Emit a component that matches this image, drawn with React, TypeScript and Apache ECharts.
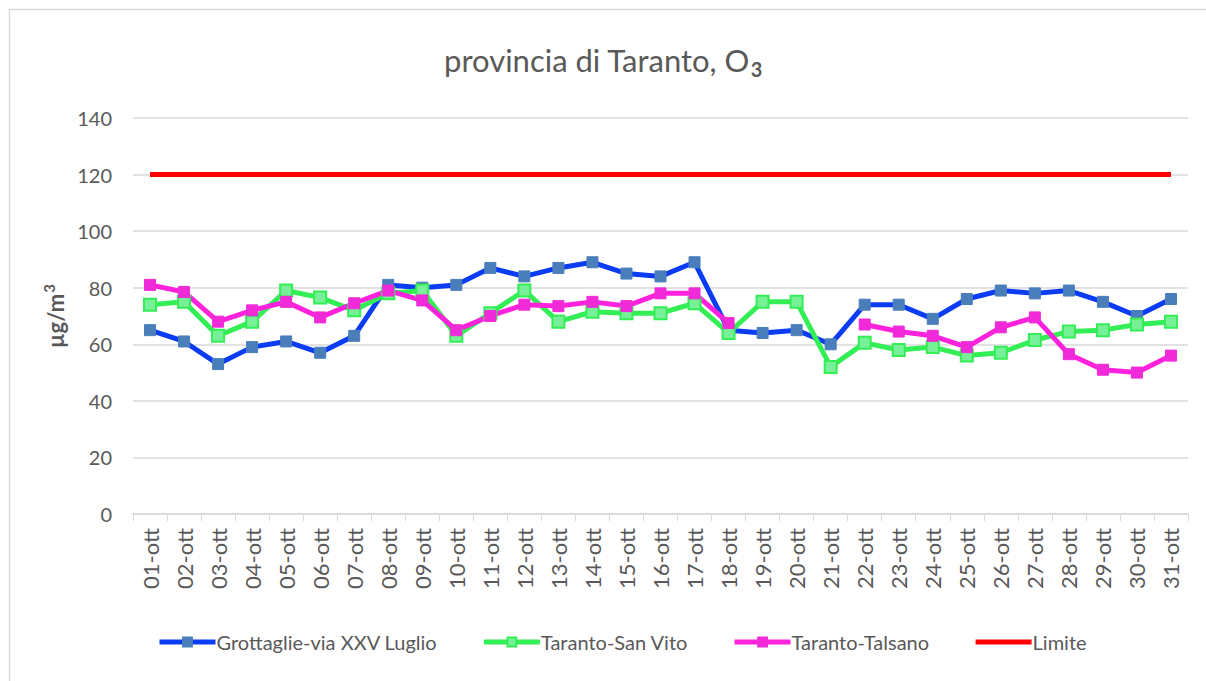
import React, { useEffect, useRef } from "react";
import * as echarts from "echarts";

const categories = [
  "01-ott","02-ott","03-ott","04-ott","05-ott","06-ott","07-ott","08-ott","09-ott","10-ott",
  "11-ott","12-ott","13-ott","14-ott","15-ott","16-ott","17-ott","18-ott","19-ott","20-ott",
  "21-ott","22-ott","23-ott","24-ott","25-ott","26-ott","27-ott","28-ott","29-ott","30-ott","31-ott",
];

const grottaglie = [65, 61, 53, 59, 61, 57, 63, 81, 80, 81, 87, 84, 87, 89, 85, 84, 89, 65, 64, 65, 60, 74, 74, 69, 76, 79, 78, 79, 75, 70, 76];
const sanVito = [74, 75, 63, 68, 79, 76.5, 72, 78, 79, 63, 71, 79, 68, 71.5, 71, 71, 74.5, 64, 75, 75, 52, 60.5, 58, 59, 56, 57, 61.5, 64.5, 65, 67, 68];
const talsano: (number | null)[] = [81, 78.5, 68, 72, 75, 69.5, 74.5, 79, 75.5, 65, 70, 74, 73.5, 75, 73.5, 78, 78, 67.5, null, null, null, 67, 64.5, 63, 59, 66, 69.5, 56.5, 51, 50, 56];
const limite = categories.map(() => 120);

const yTicks = { min: 0, max: 140, interval: 20 };

const FONT = "Lato, 'Open Sans', sans-serif";
const GREY = "#595959";

export default function App() {
  const ref = useRef<HTMLDivElement>(null);
  useEffect(() => {
    if (!ref.current) return;
    const chart = echarts.init(ref.current, null, { renderer: "svg" });
    chart.setOption({
      animation: false,
      backgroundColor: "#ffffff",
      textStyle: { fontFamily: FONT },
      graphic: [
        {
          type: "rect",
          shape: { x: 9.5, y: 9.5, width: 1220, height: 700 },
          style: { fill: "none", stroke: "#d9d9d9", lineWidth: 1.5 },
          silent: true,
        },
      ],
      title: {
        text: "{a|provincia di Taranto, O}{b|3}",
        left: "center",
        top: 36,
        textStyle: {
          rich: {
            a: { fontSize: 31, color: GREY, fontFamily: FONT, fontWeight: "normal" },
            b: { fontSize: 20, color: GREY, fontFamily: FONT, verticalAlign: "bottom", padding: [18, 0, 0, 1] },
          },
        },
      },
      grid: { left: 133, right: 18, top: 118, bottom: 167 },
      legend: {
        bottom: 24,
        left: 152,
        itemWidth: 56,
        itemHeight: 11,
        itemGap: 44,
        lineStyle: { width: 5 },
        textStyle: { fontSize: 20, color: GREY, fontFamily: FONT, padding: [0, 0, 0, -4] },
        data: [
          "Grottaglie-via XXV Luglio",
          "Taranto-San Vito",
          "Taranto-Talsano",
          { name: "Limite", itemStyle: { opacity: 0 } },
        ],
      },
      xAxis: {
        type: "category",
        data: categories,
        boundaryGap: true,
        axisLine: { lineStyle: { color: "#d9d9d9", width: 1.5 } },
        axisTick: { show: true, length: 7, lineStyle: { color: "#d9d9d9" } },
        axisLabel: { rotate: 90, fontSize: 22, color: GREY, margin: 14, interval: 0, fontFamily: FONT },
      },
      yAxis: {
        type: "value",
        min: yTicks.min,
        max: yTicks.max,
        interval: yTicks.interval,
        name: "{a|µg/m}{b|3}",
        nameLocation: "middle",
        nameGap: 62,
        nameRotate: 90,
        nameTextStyle: {
          rich: {
            a: { fontSize: 22, fontWeight: "bold", color: GREY, fontFamily: FONT },
            b: { fontSize: 15, fontWeight: "bold", color: GREY, fontFamily: FONT, verticalAlign: "top", padding: [0, 0, 12, 1] },
          },
        },
        axisLine: { show: false },
        axisTick: { show: false },
        axisLabel: { fontSize: 20, color: GREY, margin: 21, fontFamily: FONT },
        splitLine: { lineStyle: { color: "#d9d9d9", width: 1.5 } },
      },
      series: [
        {
          name: "Grottaglie-via XXV Luglio",
          type: "line",
          data: grottaglie,
          symbol: "rect",
          symbolSize: 11,
          lineStyle: { color: "#0a3cf5", width: 5 },
          itemStyle: { color: "#4a7ebb", borderColor: "#4a7ebb", borderWidth: 1 },
        },
        {
          name: "Taranto-San Vito",
          type: "line",
          data: sanVito,
          symbol: "rect",
          symbolSize: 12,
          lineStyle: { color: "#33ee55", width: 5 },
          itemStyle: { color: "#77f097", borderColor: "#33ee55", borderWidth: 2 },
        },
        {
          name: "Taranto-Talsano",
          type: "line",
          data: talsano.map((v) => (v === null ? "-" : v)),
          connectNulls: false,
          symbol: "rect",
          symbolSize: 11,
          lineStyle: { color: "#ff22dd", width: 5 },
          itemStyle: { color: "#f02ad8", borderColor: "#f02ad8", borderWidth: 1 },
        },
        {
          name: "Limite",
          type: "line",
          data: limite,
          symbol: "none",
          lineStyle: { color: "#ff0000", width: 5 },
          itemStyle: { color: "#ff0000" },
        },
      ],
    });
    return () => chart.dispose();
  }, []);
  return (
    <div
      ref={ref}
      style={{ position: "fixed", left: 0, top: 0, width: 1206, height: 681, background: "#fff" }}
    />
  );
}
